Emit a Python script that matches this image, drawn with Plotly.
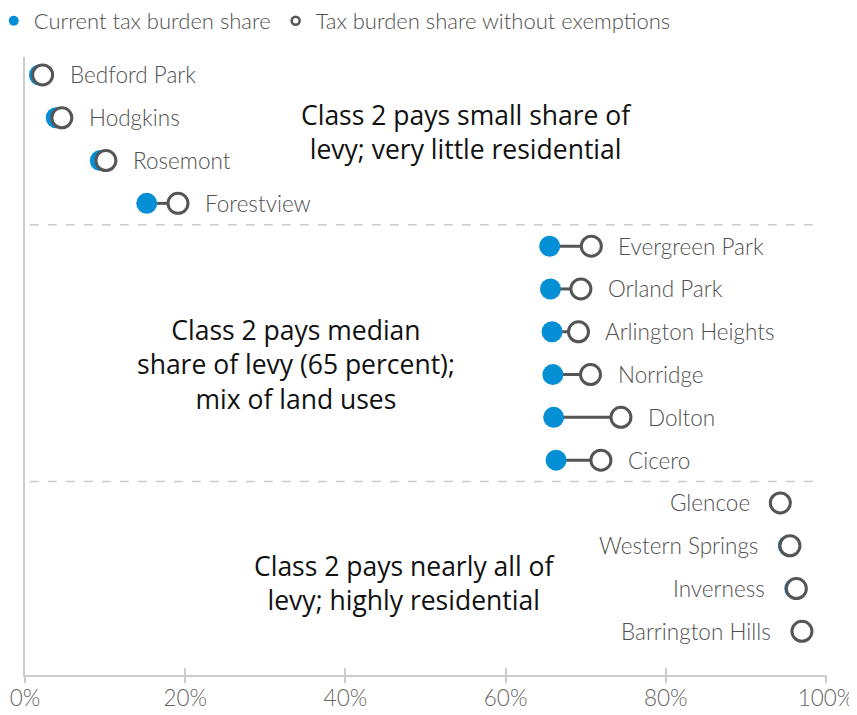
import plotly.graph_objects as go

# ---- data ----
places = ["Bedford Park", "Hodgkins", "Rosemont", "Forestview",
          "Evergreen Park", "Orland Park", "Arlington Heights", "Norridge", "Dolton", "Cicero",
          "Glencoe", "Western Springs", "Inverness", "Barrington Hills"]
current_share = [1.8, 3.9, 9.4, 15.2,
                 65.5, 65.6, 65.8, 65.9, 66.0, 66.3,
                 94.2, 95.3, 96.1, 96.9]
no_exempt_share = [2.2, 4.6, 10.1, 19.1,
                   70.7, 69.4, 69.1, 70.6, 74.4, 71.9,
                   94.3, 95.5, 96.3, 97.0]
label_side = ["right"] * 10 + ["left"] * 4
group_breaks = [3.5, 9.5]
group_notes = [
    (55.1, 1.343, "Class 2 pays small share of<br>levy; very little residential"),
    (33.8, 6.776, "Class 2 pays median<br>share of levy (65 percent);<br>mix of land uses"),
    (47.4, 11.87, "Class 2 pays nearly all of<br>levy; highly residential"),
]
tick_vals = [0, 20, 40, 60, 80, 100]
tick_text = ["0%", "20%", "40%", "60%", "80%", "100%"]

BLUE = "#0590d6"
GRAY = "#555555"
TXT = "#505050"
AX = "#cccccc"
LFONT = "Lato"

rows = list(range(len(places)))

# connectors
cx, cy = [], []
for i, (a, b) in enumerate(zip(current_share, no_exempt_share)):
    cx += [a, b, None]
    cy += [i, i, None]

fig = go.Figure()
fig.add_trace(go.Scatter(x=cx, y=cy, mode="lines", line=dict(color=GRAY, width=3),
                         showlegend=False, hoverinfo="skip"))
fig.add_trace(go.Scatter(x=current_share, y=rows, mode="markers",
                         marker=dict(color=BLUE, size=21, line=dict(width=0)),
                         showlegend=False, name="Current tax burden share"))
fig.add_trace(go.Scatter(x=no_exempt_share, y=rows, mode="markers", xaxis="x2",
                         marker=dict(color="white", size=20, line=dict(color=GRAY, width=3)),
                         showlegend=False, name="Tax burden share without exemptions"))
# legend entries
fig.add_trace(go.Scatter(x=[None], y=[None], mode="markers", name="Current tax burden share",
                         marker=dict(color=BLUE, size=10)))
fig.add_trace(go.Scatter(x=[None], y=[None], mode="markers", name="Tax burden share without exemptions",
                         marker=dict(color="white", size=8, line=dict(color=GRAY, width=2.5))))

lab_font = dict(family=LFONT, size=22.5, color=TXT, weight=300)
annotations = []
for i, name in enumerate(places):
    if label_side[i] == "right":
        annotations.append(dict(x=max(current_share[i], no_exempt_share[i]), y=i, xref="x", yref="y",
                                text=name, showarrow=False, xanchor="left", yanchor="middle",
                                xshift=25, font=lab_font))
    else:
        annotations.append(dict(x=min(current_share[i], no_exempt_share[i]), y=i, xref="x", yref="y",
                                text=name, showarrow=False, xanchor="right", yanchor="middle",
                                xshift=-28, font=lab_font))
for xc, yc, txt in group_notes:
    annotations.append(dict(x=xc, y=yc, xref="x", yref="y", text=txt, showarrow=False,
                            xanchor="center", yanchor="middle", align="center",
                            font=dict(family="Open Sans", size=26.5, color="#111111")))

shapes = [dict(type="line", xref="x", yref="y", x0=0.6, x1=98.5, y0=b, y1=b,
               line=dict(color=AX, width=1.5, dash="dash"), layer="below") for b in group_breaks]

fig.update_layout(
    width=857, height=715, autosize=False,
    margin=dict(l=17, r=39, t=49, b=48, autoexpand=False),
    plot_bgcolor="white", paper_bgcolor="white",
    font=dict(family=LFONT, color=TXT),
    showlegend=True,
    legend=dict(orientation="h", x=-0.039, xanchor="left", y=1.0583, yanchor="middle",
                font=dict(family=LFONT, size=22, color=TXT, weight=300), itemwidth=30,
                bgcolor="rgba(0,0,0,0)", traceorder="normal"),
    xaxis=dict(range=[0, 100], tickvals=tick_vals, ticktext=tick_text, ticks="inside",
               ticklen=7, tickwidth=2, tickcolor=AX, showline=True, linecolor=AX, linewidth=2,
               showgrid=False, zeroline=False, ticklabelstandoff=2,
               tickfont=dict(family=LFONT, size=22.5, color="#666666", weight=300),
               fixedrange=True),
    xaxis2=dict(overlaying="x", matches="x", anchor="y", side="bottom", range=[0, 100],
                tickvals=tick_vals, ticks="outside", ticklen=7, tickwidth=2, tickcolor=AX,
                showticklabels=False, showline=False, showgrid=False, zeroline=False),
    yaxis=dict(range=[14.02, -0.42], showline=True, linecolor=AX, linewidth=2,
               showticklabels=False, ticks="", showgrid=False, zeroline=False),
    annotations=annotations, shapes=shapes,
)

fig.write_html("out.html")
